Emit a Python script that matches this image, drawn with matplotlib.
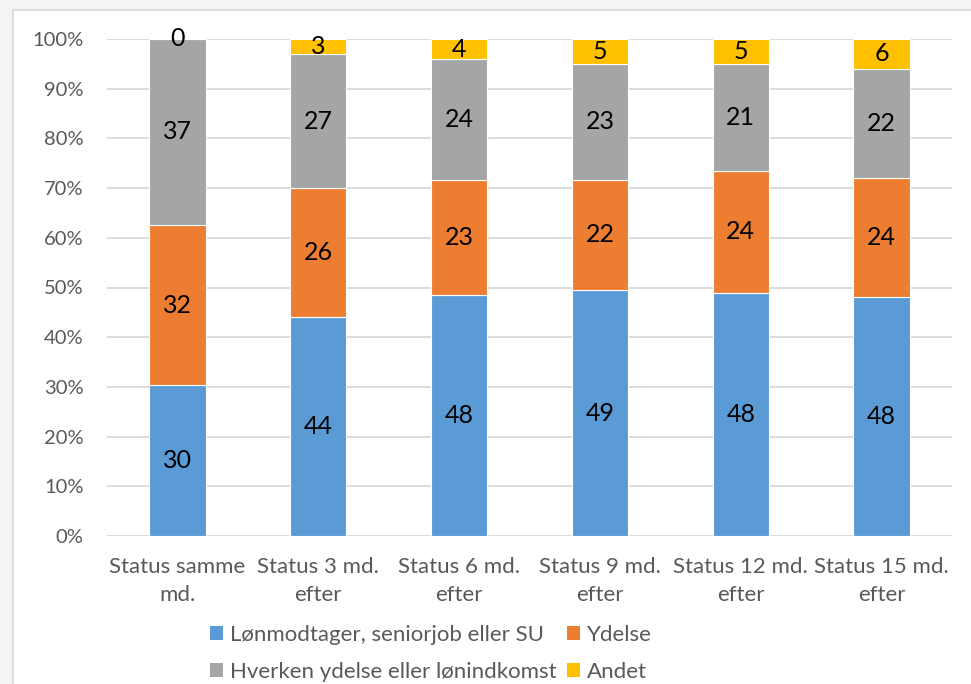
import matplotlib
matplotlib.use("Agg")
import matplotlib.pyplot as plt
from matplotlib.patches import Rectangle, Patch
import numpy as np

categories = ["Status samme\nmd.", "Status 3 md.\nefter", "Status 6 md.\nefter",
              "Status 9 md.\nefter", "Status 12 md.\nefter", "Status 15 md.\nefter"]
series_names = ["Lønmodtager, seniorjob eller SU", "Ydelse",
                "Hverken ydelse eller lønindkomst", "Andet"]
loen = [30, 44, 48, 49, 48, 48]
ydelse = [32, 26, 23, 22, 24, 24]
hverken = [37, 27, 24, 23, 21, 22]
andet = [0, 3, 4, 5, 5, 6]
colors = ["#5B9BD5", "#ED7D31", "#A5A5A5", "#FFC000"]
ytick_labels = ["0%", "10%", "20%", "30%", "40%", "50%", "60%", "70%", "80%", "90%", "100%"]

plt.rcParams['font.family'] = ['Lato', 'DejaVu Sans']

fig = plt.figure(figsize=(9.71, 6.84), dpi=100)
fig.patch.set_facecolor("#F4F4F4")
fig.patches.append(Rectangle((13 / 971, -0.05), 1.1, 1 - 9.5 / 684 + 0.05,
                             transform=fig.transFigure, facecolor="white",
                             edgecolor="#D9D9D9", linewidth=1.2, zorder=-5))

ax = fig.add_axes([107 / 971, 1 - 536 / 684, (952 - 107) / 971, (536 - 39) / 684])
ax.set_facecolor("none")

data = np.array([loen, ydelse, hverken, andet], dtype=float)
totals = data.sum(axis=0)
pct = data / totals * 100
x = np.arange(len(categories))
bottom = np.zeros(len(categories))
for i in range(4):
    bars = ax.bar(x, pct[i], 0.4, bottom=bottom, color=colors[i],
                  edgecolor="white", linewidth=0.8, zorder=3, label=series_names[i])
    for j in range(len(categories)):
        ax.text(x[j], bottom[j] + pct[i][j] / 2, str(int(data[i][j])),
                ha="center", va="center", fontsize=18, color="black", zorder=4)
    bottom += pct[i]

ax.set_xlim(-0.5, len(categories) - 0.5)
ax.set_ylim(0, 100)
ax.set_yticks(np.arange(0, 101, 10))
ax.set_yticklabels(ytick_labels)
ax.set_xticks(x)
ax.set_xticklabels(categories, linespacing=1.5)
ax.tick_params(axis="y", length=0, pad=17, labelsize=14.5, labelcolor="#595959")
ax.tick_params(axis="x", length=0, pad=15, labelsize=16, labelcolor="#595959")
for s in ax.spines.values():
    s.set_visible(False)
ax.yaxis.grid(True, color="#D9D9D9", linewidth=1.3, zorder=0)
ax.set_axisbelow(True)

handles = [Patch(facecolor=colors[k]) for k in [0, 2, 1, 3]]
labels = [series_names[k] for k in [0, 2, 1, 3]]
fig.legend(handles, labels, ncol=2, loc="upper left",
           bbox_to_anchor=(210 / 971, 1 - 625 / 684), frameon=False,
           fontsize=16, labelcolor="#595959", handlelength=0.6, handleheight=0.6,
           handletextpad=0.3, columnspacing=0.45, labelspacing=0.75, borderpad=0,
           borderaxespad=0)

fig.savefig("out.png", dpi=100, facecolor=fig.get_facecolor())
